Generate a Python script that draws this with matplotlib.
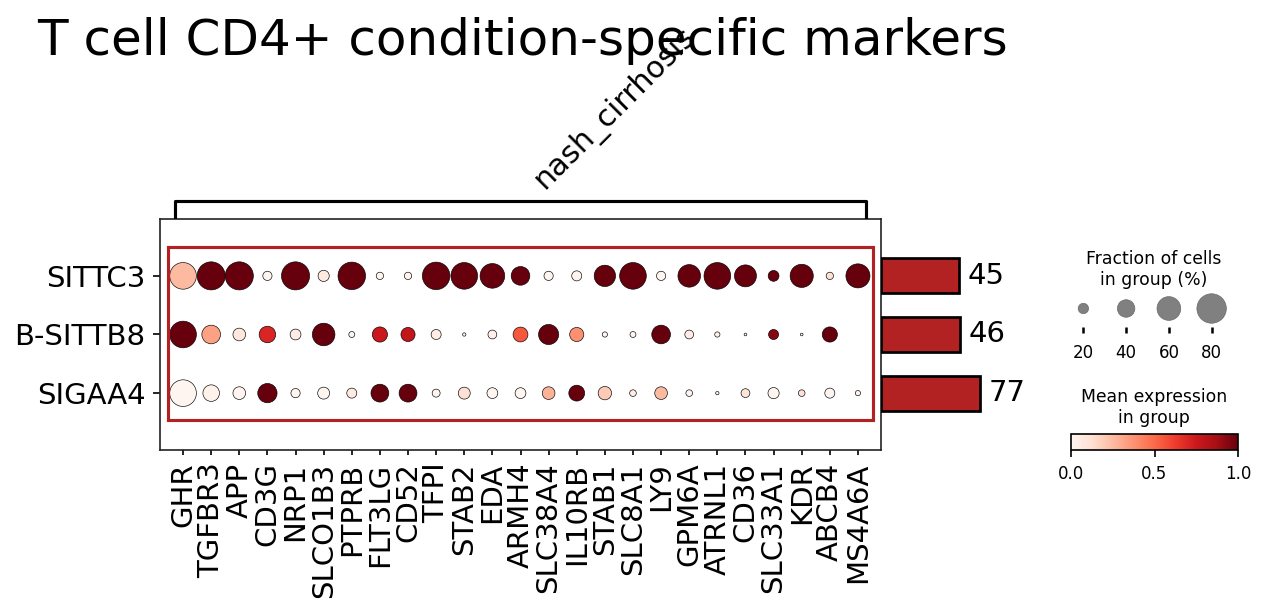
import numpy as np
import matplotlib
matplotlib.use("Agg")
import matplotlib.pyplot as plt
from matplotlib.patches import Rectangle
from matplotlib.cm import ScalarMappable
from matplotlib.colors import Normalize

title = "T cell CD4+ condition-specific markers"
group_label = "nash_cirrhosis"

genes = ["GHR", "TGFBR3", "APP", "CD3G", "NRP1", "SLCO1B3", "PTPRB", "FLT3LG",
         "CD52", "TFPI", "STAB2", "EDA", "ARMH4", "SLC38A4", "IL10RB", "STAB1",
         "SLC8A1", "LY9", "GPM6A", "ATRNL1", "CD36", "SLC33A1", "KDR", "ABCB4",
         "MS4A6A"]
groups = ["SITTC3", "B-SITTB8", "SIGAA4"]
totals = [45, 46, 77]

# fraction of cells expressing each gene, one list per group
frac_sittc3 = [0.70, 0.75, 0.75, 0.17, 0.75, 0.22, 0.73, 0.125, 0.125, 0.73, 0.70, 0.63,
               0.435, 0.17, 0.19, 0.52, 0.70, 0.17, 0.56, 0.70, 0.54, 0.21, 0.58, 0.125, 0.61]
frac_sittb8 = [0.70, 0.435, 0.26, 0.37, 0.21, 0.56, 0.095, 0.33, 0.30, 0.19, 0.044, 0.16,
               0.32, 0.48, 0.30, 0.08, 0.095, 0.435, 0.16, 0.08, 0.033, 0.19, 0.033, 0.33, 0.0]
frac_sigaa4 = [0.70, 0.37, 0.26, 0.455, 0.17, 0.24, 0.19, 0.41, 0.41, 0.14, 0.24, 0.21,
               0.21, 0.26, 0.35, 0.28, 0.11, 0.26, 0.11, 0.044, 0.16, 0.22, 0.11, 0.19, 0.08]

# mean expression, scaled per gene to 0..1
expr_sittc3 = [0.25, 1.0, 1.0, 0.0, 1.0, 0.07, 1.0, 0.0, 0.0, 1.0, 1.0, 1.0,
               1.0, 0.0, 0.0, 1.0, 1.0, 0.0, 1.0, 1.0, 1.0, 1.0, 1.0, 0.12, 1.0]
expr_sittb8 = [1.0, 0.33, 0.08, 0.7, 0.05, 1.0, 0.0, 0.75, 0.78, 0.05, 0.0, 0.03,
               0.55, 1.0, 0.38, 0.0, 0.0, 1.0, 0.05, 0.03, 0.0, 0.93, 0.0, 1.0, 0.0]
expr_sigaa4 = [0.0, 0.02, 0.0, 1.0, 0.0, 0.0, 0.07, 1.0, 1.0, 0.0, 0.12, 0.0,
               0.0, 0.28, 1.0, 0.2, 0.05, 0.25, 0.0, 0.0, 0.1, 0.0, 0.12, 0.0, 0.03]

legend_fracs = [0.2, 0.4, 0.6, 0.8]

dot_max = 0.8
largest_dot = 200
size_exp = 1.5


def dot_size(f):
    return (np.asarray(f) / dot_max) ** size_exp * largest_dot


W, H = 1267, 615
fig = plt.figure(figsize=(W / 150, H / 150), dpi=150)


def box(left, top, right, bottom):
    return [left / W, 1 - bottom / H, (right - left) / W, (bottom - top) / H]


fracs = [frac_sittc3, frac_sittb8, frac_sigaa4]
exprs = [expr_sittc3, expr_sittb8, expr_sigaa4]

# main dot plot
ax = fig.add_axes(box(160, 219, 881, 450))
xs, ys, ss, cs = [], [], [], []
for r in range(len(groups)):
    for c in range(len(genes)):
        xs.append(c)
        ys.append(r)
        ss.append(dot_size(fracs[r][c]))
        cs.append(exprs[r][c])
ax.scatter(xs, ys, s=ss, c=cs, cmap="Reds", vmin=0, vmax=1,
           edgecolors="black", linewidths=0.3, zorder=3)
ax.set_xlim(-0.82, len(genes) - 1 + 0.82)
ax.set_ylim(len(groups) - 1 + 0.97, -0.97)
ax.set_xticks(range(len(genes)))
ax.set_xticklabels(genes, rotation=90, fontsize=14)
ax.set_yticks(range(len(groups)))
ax.set_yticklabels(groups, fontsize=14)
ax.tick_params(axis="x", length=2.5)
ax.tick_params(axis="y", length=3.5)
for sp in ax.spines.values():
    sp.set_color("#222222")
ax.add_patch(Rectangle((-0.55, -0.5), len(genes) + 0.1, len(groups) - 0.05,
                       fill=False, edgecolor="#b22222", linewidth=1.5, zorder=4))

# bracket above the genes
axb = fig.add_axes(box(160, 199, 881, 219), sharex=ax)
axb.set_ylim(0, 1)
axb.plot([-0.3, -0.3, len(genes) - 0.7, len(genes) - 0.7], [0, 0.92, 0.92, 0],
         color="black", linewidth=1.5, solid_capstyle="butt")
axb.text(12.85, 1.45, group_label, rotation=45, rotation_mode="anchor",
         ha="left", va="baseline", fontsize=14.5)
axb.axis("off")

# totals
axt = fig.add_axes(box(881, 219, 1040, 450))
axt.set_xscale("log")
tot_min = 6.1
axt.set_xlim(tot_min, 357)
axt.set_ylim(len(groups) - 1 + 0.97, -0.97)
axt.barh(range(len(groups)), np.array(totals) - tot_min, left=tot_min, height=0.6,
         color="#b22222", edgecolor="black", linewidth=1.3)
for i, t in enumerate(totals):
    axt.annotate(str(t), (t, i), xytext=(4, 0), textcoords="offset points",
                 va="center", ha="left", fontsize=14)
axt.axis("off")

# size legend
axs = fig.add_axes(box(1062, 290, 1233, 327))
axs.scatter(range(len(legend_fracs)), [0] * len(legend_fracs),
            s=dot_size(legend_fracs), color="gray", edgecolors="#666666", linewidths=0.3)
axs.set_xlim(-0.5, len(legend_fracs) - 0.5)
axs.set_ylim(-0.5, 0.5)
axs.set_xticks(range(len(legend_fracs)))
axs.set_xticklabels([str(int(round(f * 100))) for f in legend_fracs], fontsize=8)
axs.set_yticks([])
axs.tick_params(axis="x", length=3, width=1.2, pad=5)
for sp in axs.spines.values():
    sp.set_visible(False)
fig.text(1154 / W, 1 - 289 / H, "Fraction of cells\nin group (%)", ha="center",
         va="bottom", fontsize=8.3, linespacing=1.2)

# colorbar
axc = fig.add_axes(box(1071, 434, 1238, 450))
cb = fig.colorbar(ScalarMappable(norm=Normalize(0, 1), cmap="Reds"), cax=axc,
                  orientation="horizontal", ticks=[0, 0.5, 1])
cb.ax.tick_params(labelsize=8)
cb.ax.set_xticklabels(["0.0", "0.5", "1.0"])
fig.text(1154 / W, 1 - 427 / H, "Mean expression\nin group", ha="center",
         va="bottom", fontsize=8.3, linespacing=1.2)

fig.text(37 / W, 1 - 55 / H, title, fontsize=24, va="baseline", ha="left")

fig.savefig("out.png", dpi=150)
